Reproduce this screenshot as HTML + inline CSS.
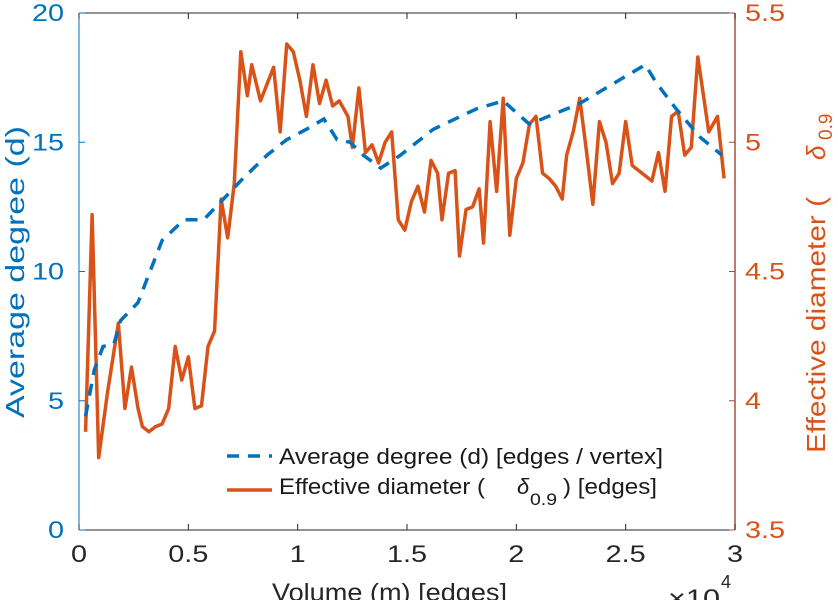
<!DOCTYPE html>
<html><head><meta charset="utf-8"><style>
html,body{margin:0;padding:0;background:#fff;}
svg{display:block;font-family:"Liberation Sans",sans-serif;}
</style></head><body>
<svg id="chart" width="838" height="600">
<g id="plot"></g>
</svg>
<script>
const degX=[0.03,0.07,0.11,0.16,0.19,0.27,0.32,0.38,0.48,0.57,0.66,0.75,0.86,0.95,1.04,1.12,1.18,1.24,1.30,1.38,1.47,1.62,1.82,1.94,2.06,2.29,2.59,2.64,2.73,2.84,2.94];
const degY=[4.4,6.2,7.1,7.2,8.1,8.8,9.9,11.2,12.0,12.0,12.8,13.6,14.5,15.1,15.5,15.9,15.1,15.0,14.5,14.0,14.5,15.5,16.3,16.6,15.7,16.5,18.0,17.3,16.3,15.2,14.5];
const diaX=[0.03,0.06,0.09,0.13,0.18,0.21,0.24,0.27,0.29,0.32,0.35,0.38,0.41,0.44,0.47,0.50,0.53,0.56,0.59,0.62,0.65,0.68,0.71,0.74,0.77,0.79,0.83,0.89,0.92,0.95,0.98,1.01,1.04,1.07,1.10,1.13,1.16,1.19,1.23,1.25,1.28,1.31,1.34,1.37,1.40,1.43,1.46,1.49,1.52,1.55,1.58,1.61,1.64,1.66,1.69,1.72,1.74,1.77,1.80,1.83,1.85,1.88,1.91,1.94,1.97,2.00,2.03,2.06,2.09,2.12,2.15,2.18,2.21,2.23,2.26,2.29,2.32,2.35,2.38,2.41,2.44,2.47,2.50,2.53,2.56,2.59,2.62,2.65,2.68,2.71,2.74,2.77,2.80,2.83,2.88,2.92,2.95];
const diaY=[3.88,4.72,3.78,4.03,4.30,3.97,4.13,3.97,3.90,3.88,3.90,3.91,3.97,4.21,4.08,4.17,3.97,3.98,4.21,4.27,4.78,4.63,4.84,5.35,5.18,5.30,5.16,5.29,5.04,5.38,5.35,5.24,5.10,5.30,5.15,5.24,5.14,5.16,5.10,4.98,5.21,4.96,4.99,4.92,5.00,5.04,4.70,4.66,4.77,4.83,4.73,4.93,4.88,4.70,4.88,4.89,4.56,4.74,4.75,4.82,4.61,5.08,4.81,5.17,4.64,4.86,4.92,5.07,5.10,4.88,4.86,4.83,4.78,4.95,5.04,5.17,4.97,4.76,5.08,5.00,4.84,4.88,5.08,4.91,4.89,4.87,4.85,4.96,4.81,5.10,5.12,4.95,4.98,5.33,5.04,5.10,4.86];
const xTicks=[0,0.5,1,1.5,2,2.5,3];
const xTickLabels=["0","0.5","1","1.5","2","2.5","3"];
const yLTicks=[0,5,10,15,20];
const yRTicks=[3.5,4,4.5,5,5.5];
const yRTickLabels=["3.5","4","4.5","5","5.5"];

const L=79,R=735,T=13,B=530;
const sx=v=>L+(v-0)/3*(R-L);
const syL=v=>B-(v/20)*(B-T);
const syR=v=>B-((v-3.5)/2)*(B-T);
const NS="http://www.w3.org/2000/svg";
const svg=document.getElementById('chart');
function mk(tag,attrs,text){const e=document.createElementNS(NS,tag);for(const k in attrs)e.setAttribute(k,attrs[k]);if(text!==undefined)e.textContent=text;svg.appendChild(e);return e;}
function stretch(el,f){const w=el.getComputedTextLength();el.setAttribute('textLength',w*f);el.setAttribute('lengthAdjust','spacingAndGlyphs');}
function fit(el,w){el.setAttribute('textLength',w);el.setAttribute('lengthAdjust','spacingAndGlyphs');}

let e;
e=mk('line',{x1:L,y1:T,x2:R,y2:T,stroke:'#262626','stroke-width':1});


e=mk('line',{x1:L,y1:B,x2:R,y2:B,stroke:'#262626','stroke-width':1});


e=mk('line',{x1:L,y1:T,x2:L,y2:B,stroke:'#0072BD','stroke-width':1});


e=mk('line',{x1:R,y1:T,x2:R,y2:B,stroke:'#A0523A','stroke-width':1.5});



xTicks.forEach((t,i)=>{
  const x=sx(t);
  let a=mk('line',{x1:x,y1:B,x2:x,y2:B-6,stroke:'#262626'});
  
  
  a=mk('line',{x1:x,y1:T,x2:x,y2:T+6,stroke:'#262626'});
  
  
  a=mk('text',{x:x,y:562,'text-anchor':'middle','font-size':24,fill:'#262626'},xTickLabels[i]);
  
  
  stretch(a,1.2);
});
yLTicks.forEach(t=>{
  const y=syL(t);
  let a=mk('line',{x1:L,y1:y,x2:L+6,y2:y,stroke:'#0072BD'});
  
  
  a=mk('text',{x:64,y:y+8,'text-anchor':'end','font-size':24,fill:'#0072BD'},String(t));
  
  
  stretch(a,1.2);
});
yRTicks.forEach((t,i)=>{
  const y=syR(t);
  let a=mk('line',{x1:R,y1:y,x2:R-6,y2:y,stroke:'#A0523A'});
  
  
  a=mk('text',{x:745,y:y+8,'text-anchor':'start','font-size':24,fill:'#D95319'},yRTickLabels[i]);
  
  
  stretch(a,1.2);
});

let p=mk('polyline',{points:diaX.map((x,i)=>sx(x)+','+syR(diaY[i])).join(' '),fill:'none',stroke:'#D95319','stroke-width':3.5,'stroke-linejoin':'round'});


p=mk('polyline',{points:degX.map((x,i)=>sx(x)+','+syL(degY[i])).join(' '),fill:'none',stroke:'#0072BD','stroke-width':3.5,'stroke-dasharray':'12,9'});



e=mk('text',{x:0,y:0,transform:'translate(24,272) rotate(-90)','text-anchor':'middle','font-size':26,fill:'#0072BD'},'Average degree (d)');


fit(e,292);
e=mk('text',{x:0,y:0,transform:'translate(825,453) rotate(-90)','font-size':26,fill:'#D95319'},'Effective diameter (');


fit(e,256);
e=mk('text',{x:0,y:0,transform:'translate(825,160) rotate(-90)','font-size':26,'font-style':'italic',fill:'#D95319'},'δ');


e=mk('text',{x:0,y:0,transform:'translate(832,140) rotate(-90)','font-size':19,fill:'#D95319'},'0.9');


e=mk('text',{x:272,y:601,'font-size':25,fill:'#262626'},'Volume (m) [edges]');


fit(e,235);
e=mk('text',{x:668,y:607,'font-size':25,fill:'#262626'},'×10');


fit(e,52);
e=mk('text',{x:721,y:588,'font-size':18,fill:'#262626'},'4');



e=mk('line',{x1:227,y1:456,x2:272,y2:456,stroke:'#0072BD','stroke-width':3.5,'stroke-dasharray':'12,9'});


e=mk('text',{x:279,y:464,'font-size':22,fill:'#1a1a1a'},'Average degree (d) [edges / vertex]');


fit(e,384);
e=mk('line',{x1:227,y1:490,x2:272,y2:490,stroke:'#D95319','stroke-width':3.5});


e=mk('text',{x:279,y:494,'font-size':22,fill:'#1a1a1a'},'Effective diameter (');


fit(e,206);
e=mk('text',{x:517,y:494,'font-size':22,'font-style':'italic',fill:'#1a1a1a'},'δ');


e=mk('text',{x:530,y:505,'font-size':17,fill:'#1a1a1a'},'0.9');


fit(e,27);
e=mk('text',{x:563,y:494,'font-size':22,fill:'#1a1a1a'},') [edges]');


fit(e,94);
</script>
</body></html>
